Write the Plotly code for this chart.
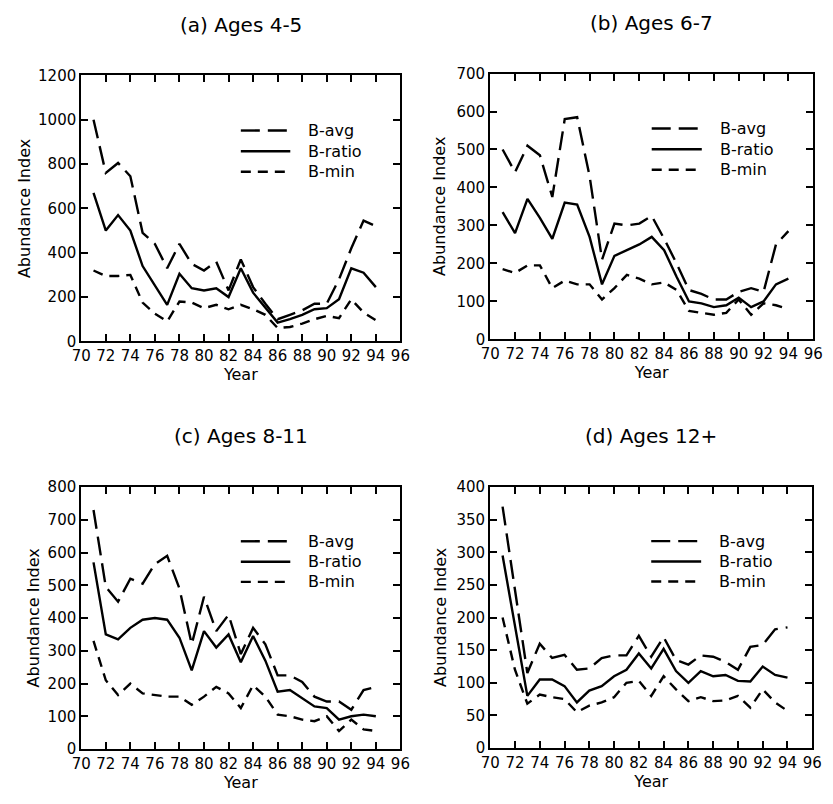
import plotly.graph_objects as go

years = [71, 72, 73, 74, 75, 76, 77, 78, 79, 80, 81, 82,
         83, 84, 85, 86, 87, 88, 89, 90, 91, 92, 93, 94]

# (a) Ages 4-5
a_avg = [1000, 760, 805, 745, 490, 440, 330, 440, 350, 320, 360, 230,
         370, 245, 170, 100, 120, 140, 170, 170, 280, 420, 545, 520]
a_ratio = [670, 500, 570, 500, 340, 250, 165, 305, 240, 230, 240, 200,
           330, 220, 150, 85, 100, 120, 145, 150, 190, 330, 310, 245]
a_min = [320, 295, 295, 300, 175, 125, 90, 180, 175, 150, 165, 145,
         165, 145, 120, 60, 65, 80, 100, 115, 105, 190, 130, 95]

# (b) Ages 6-7
b_avg = [500, 440, 510, 485, 375, 580, 585, 430, 210, 305, 300, 305,
         325, 265, 200, 130, 120, 105, 105, 125, 135, 125, 250, 285]
b_ratio = [335, 280, 370, 320, 265, 360, 355, 270, 145, 220, 235, 250,
           270, 235, 165, 100, 95, 85, 90, 110, 85, 100, 145, 160]
b_min = [185, 175, 195, 195, 135, 155, 145, 145, 105, 135, 170, 160,
         145, 150, 130, 75, 70, 65, 70, 105, 65, 95, 90, 80]

# (c) Ages 8-11
c_avg = [730, 495, 450, 520, 505, 565, 590, 490, 320, 465, 360, 410,
         290, 370, 320, 225, 225, 205, 160, 145, 145, 120, 180, 190]
c_ratio = [570, 350, 335, 370, 395, 400, 395, 340, 240, 360, 310, 350,
           265, 345, 270, 175, 180, 155, 130, 125, 90, 100, 105, 100]
c_min = [330, 210, 165, 200, 170, 165, 160, 160, 135, 160, 190, 170,
         125, 195, 160, 105, 100, 90, 85, 100, 55, 90, 60, 55]

# (d) Ages 12+
d_avg = [370, 245, 115, 160, 138, 143, 120, 122, 138, 142, 142, 172,
         140, 170, 135, 128, 142, 140, 132, 120, 155, 158, 182, 185]
d_ratio = [295, 185, 80, 105, 105, 95, 70, 88, 95, 110, 120, 145,
           122, 152, 118, 100, 118, 110, 112, 103, 102, 125, 112, 108]
d_min = [200, 120, 68, 82, 78, 75, 55, 65, 70, 78, 100, 103,
         80, 110, 90, 72, 78, 72, 73, 80, 62, 90, 70, 57]

titles = ["(a) Ages 4-5", "(b) Ages 6-7", "(c) Ages 8-11", "(d) Ages 12+"]
y_max = [1200, 700, 800, 400]
y_step = [200, 100, 100, 50]
series_names = ["B-avg", "B-ratio", "B-min"]
panels = [(a_avg, a_ratio, a_min), (b_avg, b_ratio, b_min),
          (c_avg, c_ratio, c_min), (d_avg, d_ratio, d_min)]

W, H = 833, 804
# pixel boxes of each plot area: (left, right, top, bottom)
boxes = [(73, 400, 68, 340), (492, 823, 66, 338),
         (73, 400, 489, 757), (492, 822, 489, 756)]
ytitle_x = [15, 440, 24, 441]

FONT = "DejaVu Sans"
INK = "#000"
dashes = ["19px,8px", "solid", "10px,7px"]

fig = go.Figure()
layout = dict(
    width=W, height=H, margin=dict(l=0, r=0, t=0, b=0),
    paper_bgcolor="white", plot_bgcolor="white", showlegend=False,
    font=dict(family=FONT, size=15, color=INK),
)
shapes = []
annotations = []

for i, (vals, title) in enumerate(zip(panels, titles)):
    n = "" if i == 0 else str(i + 1)
    L, R, T, B = boxes[i]
    xd = [L / W, R / W]
    yd = [1 - B / H, 1 - T / H]
    for s, (v, name) in enumerate(zip(vals, series_names)):
        fig.add_trace(go.Scatter(
            x=years, y=v, mode="lines", name=name,
            xaxis="x" + n, yaxis="y" + n,
            line=dict(color=INK, width=2.4, dash=dashes[s]),
        ))
    layout["xaxis" + n] = dict(
        domain=xd, anchor="y" + n, range=[70, 96], dtick=2, tick0=70,
        showgrid=False, zeroline=False, showline=True, linecolor=INK,
        linewidth=2, mirror="ticks", ticks="inside", ticklen=7,
        tickwidth=1.8, tickcolor=INK,
        tickfont=dict(family=FONT, size=15, color=INK),
        title=dict(text="Year", font=dict(family=FONT, size=16, color=INK),
                   standoff=2),
    )
    layout["yaxis" + n] = dict(
        domain=yd, anchor="x" + n, range=[0, y_max[i]], dtick=y_step[i],
        showgrid=False, zeroline=False, showline=True, linecolor=INK,
        linewidth=2, mirror="ticks", ticks="inside", ticklen=7,
        tickwidth=1.8, tickcolor=INK,
        tickfont=dict(family=FONT, size=15, color=INK),
    )
    # y-axis title
    annotations.append(dict(
        text="Abundance Index", x=ytitle_x[i] / W, y=(yd[0] + yd[1]) / 2,
        xref="paper", yref="paper", showarrow=False, textangle=-90,
        xanchor="center", yanchor="middle",
        font=dict(family=FONT, size=16, color=INK),
    ))
    # subplot title
    annotations.append(dict(
        text=title, x=(L + R) / 2 / W, y=1 - (T - 52) / H,
        xref="paper", yref="paper", showarrow=False,
        xanchor="center", yanchor="middle",
        font=dict(family=FONT, size=20, color=INK),
    ))
    # legend inside each panel
    ly = [0.793, 0.715, 0.638]
    for s, name in enumerate(series_names):
        shapes.append(dict(
            type="line", xref="x" + n + " domain", yref="y" + n + " domain",
            x0=0.50, x1=0.655, y0=ly[s], y1=ly[s],
            line=dict(color=INK, width=2.4, dash=dashes[s]),
        ))
        annotations.append(dict(
            text=name, xref="x" + n + " domain", yref="y" + n + " domain",
            x=0.705, y=ly[s], showarrow=False, xanchor="left",
            yanchor="middle", font=dict(family=FONT, size=16, color=INK),
        ))

layout["shapes"] = shapes
layout["annotations"] = annotations
fig.update_layout(**layout)
fig.write_html("out.html")
